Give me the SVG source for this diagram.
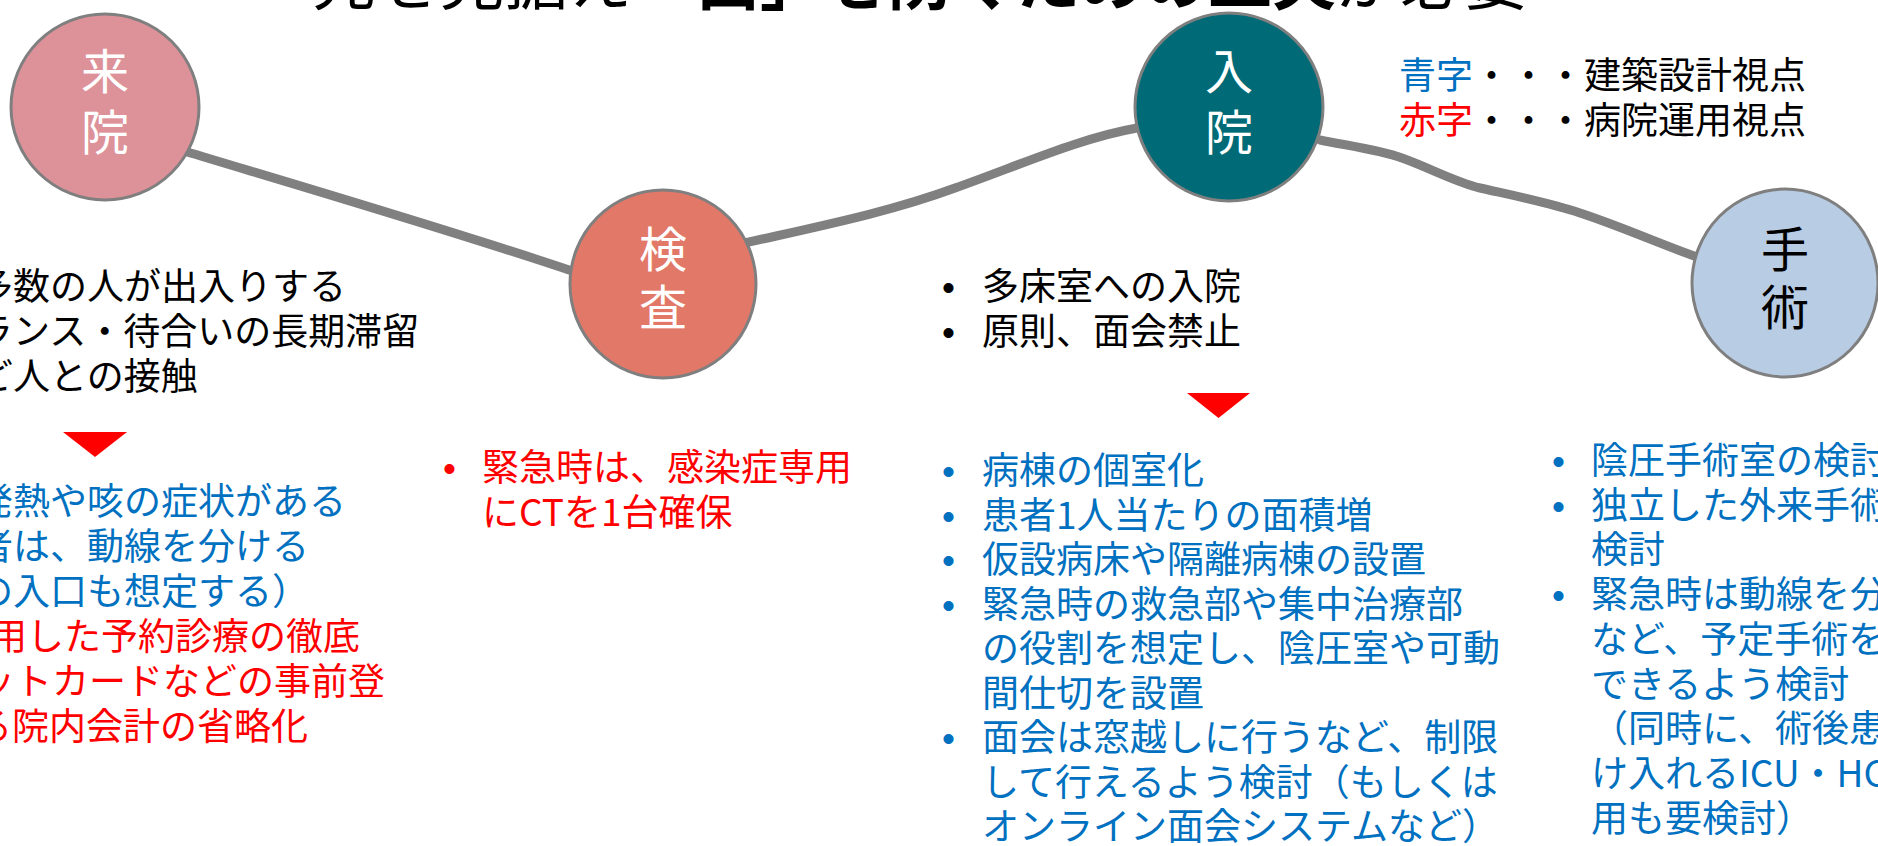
<svg xmlns="http://www.w3.org/2000/svg" width="1878" height="846" viewBox="0 0 1878 846">
<style>
  text { font-family: "Noto Sans CJK JP", "Noto Sans", sans-serif; }
  .t37 { font-size: 37px; }
  .blk { fill: #000000; }
  .blu { fill: #0070C0; }
  .red { fill: #FF0000; }
  .bul { font-family: "Liberation Sans", Arial, sans-serif; }
  .node-label { font-size: 48px; text-anchor: middle; }
  .circle { stroke: #7F7F7F; stroke-width: 3; }
  .conn { fill: none; stroke: #808080; stroke-width: 9; stroke-linecap: round; stroke-linejoin: round; }
  .tri { fill: #FF0000; }
</style>

<g id="title">
  <text x="312" y="4" font-size="64" class="blk">先を見据え<tspan font-weight="700">「出」を防ぐための工夫</tspan>が必要</text>
</g>

<g id="connectors">
  <path class="conn" d="M 184 151 C 300 186, 450 230, 572 271"/>
  <path class="conn" d="M 745 243 C 820 226, 890 212, 955 188 C 1020 165, 1080 138, 1137 128"/>
  <path class="conn" d="M 1320 140 C 1350 146, 1380 150, 1402 158 C 1430 168, 1455 182, 1480 188 C 1520 197, 1550 203, 1580 213 C 1620 226, 1660 244, 1697 257"/>
</g>

<g id="node-raiin">
  <ellipse class="circle" cx="105" cy="107" rx="94" ry="93" fill="#DD9199"/>
  <text class="node-label" x="105" y="89" fill="#FFFFFF">来</text>
  <text class="node-label" x="105" y="150" fill="#FFFFFF">院</text>
</g>

<g id="node-kensa">
  <ellipse class="circle" cx="663" cy="284" rx="93" ry="94" fill="#E27868"/>
  <text class="node-label" x="663" y="267" fill="#FFFFFF">検</text>
  <text class="node-label" x="663" y="325" fill="#FFFFFF">査</text>
</g>

<g id="node-nyuin">
  <ellipse class="circle" cx="1229" cy="107" rx="94" ry="94" fill="#006B77"/>
  <text class="node-label" x="1229" y="89" fill="#FFFFFF">入</text>
  <text class="node-label" x="1229" y="150" fill="#FFFFFF">院</text>
</g>

<g id="node-shujutsu">
  <ellipse class="circle" cx="1785" cy="283" rx="93" ry="94" fill="#B8CCE4"/>
  <text class="node-label" x="1785" y="267" fill="#000000">手</text>
  <text class="node-label" x="1785" y="325" fill="#000000">術</text>
</g>

<g id="legend" class="t37">
  <text x="1399" y="89"><tspan class="blu">青字</tspan><tspan class="blk">・・・建築設計視点</tspan></text>
  <text x="1399" y="134"><tspan class="red">赤字</tspan><tspan class="blk">・・・病院運用視点</tspan></text>
</g>

<g id="block-raiin" class="t37">
  <text x="-24" y="300" class="blk">多数の人が出入りする</text>
  <text x="-24" y="345" class="blk">ランス・待合いの長期滞留</text>
  <text x="-24" y="390" class="blk">ど人との接触</text>
  <polygon class="tri" points="63,432 127,432 95,457"/>
  <text x="-24" y="515" class="blu">発熱や咳の症状がある</text>
  <text x="-24" y="560" class="blu">者は、動線を分ける</text>
  <text x="-24" y="605" class="blu">の入口も想定する）</text>
  <text x="-10" y="650" class="red">用した予約診療の徹底</text>
  <text x="-22" y="695" class="red">ットカードなどの事前登</text>
  <text x="-25" y="740" class="red">る院内会計の省略化</text>
</g>

<g id="block-kensa" class="t37">
  <text x="443" y="481" class="red bul">•</text>
  <text x="482" y="481" class="red">緊急時は、感染症専用</text>
  <text x="482" y="526" class="red">にCTを1台確保</text>
</g>

<g id="block-nyuin" class="t37">
  <text x="942" y="300" class="blk bul">•</text>
  <text x="982" y="300" class="blk">多床室への入院</text>
  <text x="942" y="345" class="blk bul">•</text>
  <text x="982" y="345" class="blk">原則、面会禁止</text>
  <polygon class="tri" points="1187,393 1250,393 1218.5,418"/>
  <text x="942" y="484" class="blu bul">•</text>
  <text x="982" y="484" class="blu">病棟の個室化</text>
  <text x="942" y="528.5" class="blu bul">•</text>
  <text x="982" y="528.5" class="blu">患者1人当たりの面積増</text>
  <text x="942" y="573" class="blu bul">•</text>
  <text x="982" y="573" class="blu">仮設病床や隔離病棟の設置</text>
  <text x="942" y="617.5" class="blu bul">•</text>
  <text x="982" y="617.5" class="blu">緊急時の救急部や集中治療部</text>
  <text x="982" y="662" class="blu">の役割を想定し、陰圧室や可動</text>
  <text x="982" y="706.5" class="blu">間仕切を設置</text>
  <text x="942" y="751" class="blu bul">•</text>
  <text x="982" y="751" class="blu">面会は窓越しに行うなど、制限</text>
  <text x="982" y="795.5" class="blu">して行えるよう検討（もしくは</text>
  <text x="982" y="840" class="blu">オンライン面会システムなど）</text>
</g>

<g id="block-shujutsu" class="t37">
  <text x="1552" y="474" class="blu bul">•</text>
  <text x="1591" y="474" class="blu">陰圧手術室の検討</text>
  <text x="1552" y="518.7" class="blu bul">•</text>
  <text x="1591" y="518.7" class="blu">独立した外来手術</text>
  <text x="1591" y="563.4" class="blu">検討</text>
  <text x="1552" y="608" class="blu bul">•</text>
  <text x="1591" y="608" class="blu">緊急時は動線を分</text>
  <text x="1591" y="652.8" class="blu">など、予定手術を</text>
  <text x="1591" y="697.5" class="blu">できるよう検討</text>
  <text x="1591" y="742" class="blu">（同時に、術後患</text>
  <text x="1591" y="786.8" class="blu">け入れるICU・HC</text>
  <text x="1591" y="831.5" class="blu">用も要検討）</text>
</g>
</svg>
